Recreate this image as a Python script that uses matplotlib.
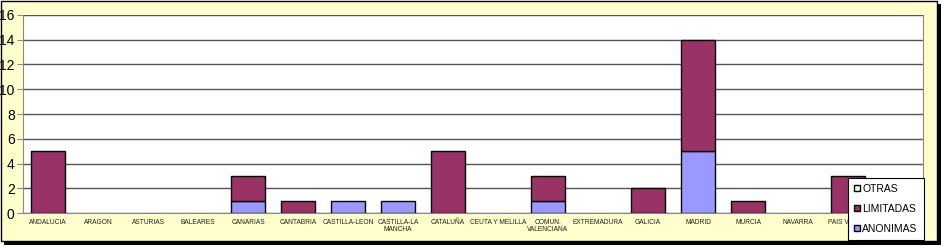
import numpy as np
import matplotlib.pyplot as plt
from matplotlib.patches import Rectangle, Patch

plt.rcParams['font.family'] = ['Liberation Sans', 'DejaVu Sans']

# data (last category is hidden behind the legend in the original)
regions = ['ANDALUCIA', 'ARAGON', 'ASTURIAS', 'BALEARES', 'CANARIAS', 'CANTABRIA',
           'CASTILLA-LEON', 'CASTILLA-LA\nMANCHA', 'CATALUÑA', 'CEUTA Y MELILLA',
           'COMUN.\nVALENCIANA', 'EXTREMADURA', 'GALICIA', 'MADRID', 'MURCIA',
           'NAVARRA', 'PAIS VASCO', '']
anonimas = [0, 0, 0, 0, 1, 0, 1, 1, 0, 0, 1, 0, 0, 5, 0, 0, 0, 0]
limitadas = [5, 0, 0, 0, 2, 1, 0, 0, 5, 0, 2, 0, 2, 9, 1, 0, 3, 0]
otras = [0] * 18

colors = {'ANONIMAS': '#9999FF', 'LIMITADAS': '#993366', 'OTRAS': '#FFFFCC'}

W, H = 944, 247
fig = plt.figure(figsize=(W / 100, H / 100), dpi=100)
fig.patch.set_facecolor('white')

# chart area with shadow
fig.add_artist(Rectangle((4 / W, 2 / H), 937 / W, 241 / H, transform=fig.transFigure,
                         facecolor='black', edgecolor='none', zorder=0))
fig.add_artist(Rectangle((1 / W, 6 / H), 936 / W, 240 / H, transform=fig.transFigure,
                         facecolor='#FFFFCC', edgecolor='black', linewidth=1, zorder=0))

ax = fig.add_axes([23 / W, 34 / H, 900 / W, 198 / H])
ax.set_facecolor('white')
x = np.arange(len(regions))
bw = 0.67
a = np.array(anonimas)
l = np.array(limitadas)
o = np.array(otras)
b1 = ax.bar(x, a, bw, color=colors['ANONIMAS'], edgecolor='black', linewidth=1, zorder=3)
b2 = ax.bar(x, l, bw, bottom=a, color=colors['LIMITADAS'], edgecolor='black', linewidth=1, zorder=3)
b3 = ax.bar(x, o, bw, bottom=a + l, color=colors['OTRAS'], edgecolor='black', linewidth=1, zorder=3)
# hide zero-height bars
for bars in (b1, b2, b3):
    for r in bars:
        if r.get_height() == 0:
            r.set_visible(False)

ax.set_xlim(-0.5, len(regions) - 0.5)
ax.set_ylim(0, 16)
ax.set_yticks(range(0, 17, 2))
ax.yaxis.grid(True, color='#555555', linewidth=1)
ax.set_axisbelow(True)
ax.set_xticks(x)
ax.set_xticklabels(regions, fontsize=4.8, linespacing=1.1, color='#222222')
ax.tick_params(axis='x', length=0, pad=4)
ax.tick_params(axis='y', labelsize=10, length=4, color='#888888', pad=2)
ax.spines['top'].set_visible(False)
ax.spines['left'].set_color('#888888')
ax.spines['right'].set_color('#888888')
ax.spines['bottom'].set_color('#888888')

handles = [Patch(facecolor=colors[k], edgecolor='black', linewidth=1)
           for k in ['OTRAS', 'LIMITADAS', 'ANONIMAS']]
leg = fig.legend(handles=handles, labels=['OTRAS', 'LIMITADAS', 'ANONIMAS'],
                 loc='lower left', bbox_to_anchor=(848 / W, 7 / H),
                 fontsize=7.5, frameon=True, fancybox=False, handlelength=0.55, handleheight=0.55,
                 handletextpad=0.2, labelspacing=0.95, borderpad=0.6, borderaxespad=0)
leg.get_frame().set_edgecolor('black')
leg.get_frame().set_linewidth(0.8)
leg.get_frame().set_alpha(1)
leg.set_zorder(10)

fig.savefig('out.png', dpi=100)
